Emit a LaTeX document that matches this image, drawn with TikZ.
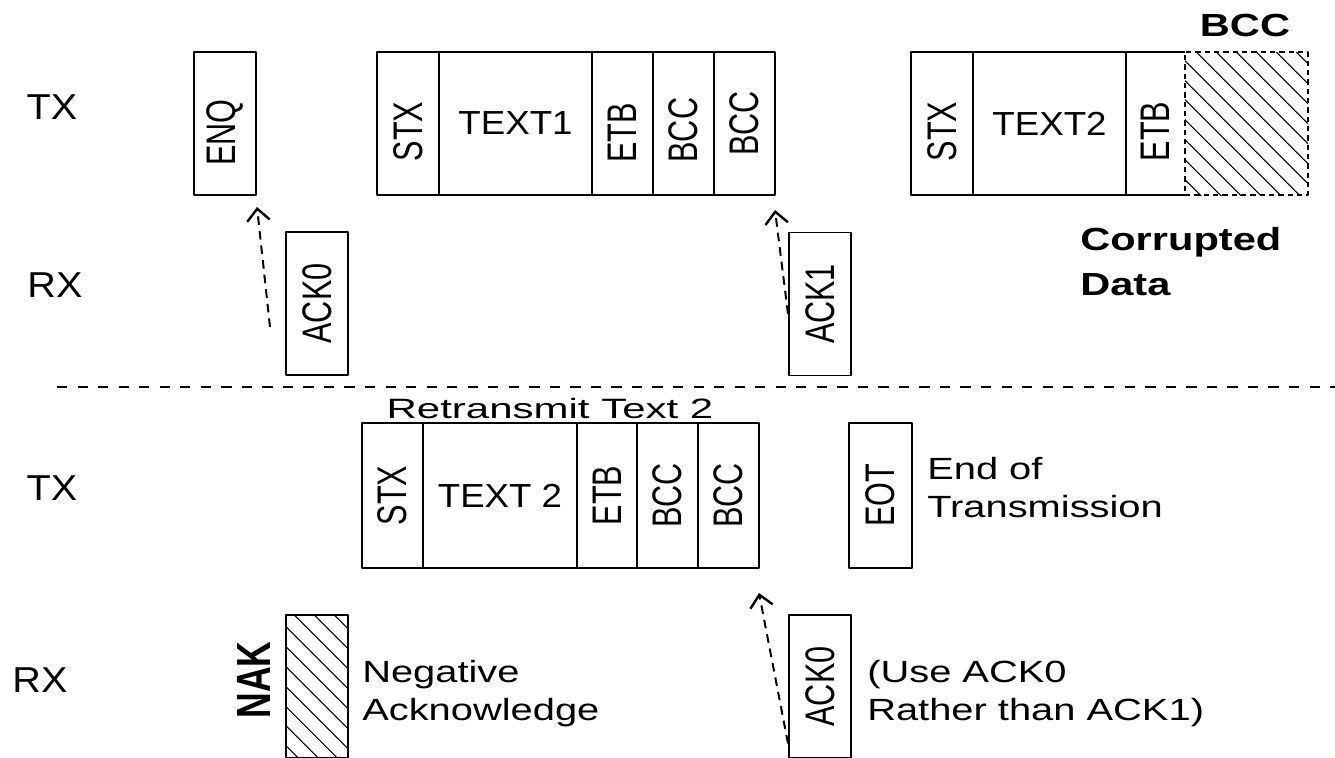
\documentclass[tikz,border=0pt]{standalone}
\usepackage{fontspec}
\setmainfont{Liberation Sans}
\newfontfamily\labfont[FakeStretch=1.1]{Liberation Sans}
\newfontfamily\notefont[FakeStretch=1.3]{Liberation Sans}
\newfontfamily\widefont[FakeStretch=1.5]{Liberation Sans}
\newfontfamily\cellfont[FakeStretch=0.74]{Liberation Sans}
\usepackage{graphicx}
\usepackage{tikz}
\usetikzlibrary{arrows.meta,positioning,calc,patterns.meta}
% upright field name, optional gap after it pushes it down
\newcommand{\vtext}[2][0pt]{\rotatebox{90}{#2\hspace{#1}}}
\tikzset{
    every picture/.style={line join=round},
    cell/.style={draw,line width=1.4pt,inner sep=0pt,outer sep=0pt,
      minimum height=143*0.75pt,font=\cellfont\fontsize{31}{36}\selectfont},
    cellw/.style={minimum width=#1*0.75pt},
    bodytext/.style={font=\labfont\fontsize{25}{30}\selectfont},
    hatched/.style={pattern={Lines[angle=-45,distance=10.5pt,line width=0.9pt]}},
    rowlabel/.style={font=\labfont\fontsize{27}{32}\selectfont,inner sep=0pt},
    note/.style={font=\notefont\fontsize{23}{28.5}\selectfont,align=left,
      inner sep=0pt,anchor=north west},
    boldnote/.style={note,font=\notefont\bfseries\fontsize{24}{33.75}\selectfont},
    ackarrow/.style={-{Straight Barb[length=9pt,width=17pt,line width=1.8pt]},
      line width=1.5pt,dash pattern=on 6.5pt off 4.5pt},
    sepline/.style={line width=1.5pt,dash pattern=on 7.7pt off 7.7pt}
}
\begin{document}
\begin{tikzpicture}[x=0.75pt,y=-0.75pt]
  \clip (0,0) rectangle (1335,757);
  \useasboundingbox (0,0) rectangle (1335,757);
  % row labels
  \node[rowlabel] (txa) at (52,107) {TX};
  \node[rowlabel] (rxa) at (55,285) {RX};
  \node[rowlabel] (txb) at (52,488) {TX};
  \node[rowlabel] (rxb) at (40,680) {RX};
  % enquiry and first block
  \node[cell,cellw=62] (enq) at (225,123.5) {\vtext[14pt]{ENQ}};
  \node[cell,cellw=62] (acka) at (317,303.5) {\vtext{ACK0}};
  \node[cell,cellw=62] (stxa) at (408,123.5) {\vtext[12pt]{STX}};
  \node[cell,cellw=153,bodytext,right=0pt of stxa] (texta) {TEXT1};
  \node[cell,cellw=61,right=0pt of texta] (etba) {\vtext[14pt]{ETB}};
  \node[cell,cellw=61,right=0pt of etba] (bcca) {\vtext[10pt]{BCC}};
  \node[cell,cellw=61,right=0pt of bcca] (bccb) {\vtext{BCC}};
  \node[cell,cellw=62] (ackb) at (820,304) {\vtext{ACK1}};
  % second block, corrupted
  \node[cell,cellw=62] (stxb) at (942,123.5) {\vtext[12pt]{STX}};
  \node[cell,cellw=153,bodytext,right=0pt of stxb] (textb) {TEXT2};
  \node[cell,draw=none,cellw=59,right=0pt of textb] (etbb) {\vtext[12pt]{ETB}};
  \draw[line width=1.4pt] (etbb.north west) -- (etbb.north east)
    (etbb.south west) -- (etbb.south east);
  \node[cell,cellw=123,hatched,dash pattern=on 4pt off 3pt,right=0pt of etbb] (bccx) {};
  \node[font=\notefont\bfseries\fontsize{24}{30}\selectfont,inner sep=0pt] (bcclabel) at (1245,25) {BCC};
  \node[boldnote] (corrupt) at (1080,227) {Corrupted\\Data};
  \draw[sepline] (57,387) -- (1335,387);
  % retransmission
  \node[font=\widefont\fontsize{21}{25}\selectfont,inner sep=0pt] (retx) at (550,408) {Retransmit Text 2};
  \node[cell,cellw=61,minimum height=145*0.75pt] (stxc) at (392.5,495.5) {\vtext{STX}};
  \node[cell,cellw=154,minimum height=145*0.75pt,bodytext,right=0pt of stxc] (textc) {TEXT 2\hspace{10pt}};
  \node[cell,cellw=60,minimum height=145*0.75pt,right=0pt of textc] (etbc) {\vtext{ETB}};
  \node[cell,cellw=61,minimum height=145*0.75pt,right=0pt of etbc] (bccc) {\vtext{BCC}};
  \node[cell,cellw=61,minimum height=145*0.75pt,right=0pt of bccc] (bccd) {\vtext{BCC}};
  \node[cell,cellw=63,minimum height=145*0.75pt] (eot) at (880.5,495.5) {\vtext{EOT}};
  \node[note] (eotnote) at (927,457) {End of\\Transmission};
  % receiver answers
  \node[cell,cellw=62,hatched] (nak) at (317,686.5) {};
  \node[font=\cellfont\bfseries\fontsize{36}{40}\selectfont,inner sep=0pt] (naklabel) at (254,680) {\vtext{NAK}};
  \node[note] (naknote) at (362,660) {Negative\\Acknowledge};
  \node[cell,cellw=62] (ackc) at (820,686.5) {\vtext{ACK0}};
  \node[note] (acknote) at (867,660) {(Use ACK0\\Rather than ACK1)};
  % acknowledgements
  \draw[ackarrow] ($(acka.west)+(-16,23.5)$) -- ($(enq.south east)+(1,12)$);
  \draw[ackarrow] ($(ackb.west)+(-1,10)$) -- ($(bccb.south east)+(0,15)$);
  \draw[ackarrow] ($(ackc.west)+(-1,57)$) -- ($(bccd.south east)+(0,25)$);
\end{tikzpicture}
\end{document}
